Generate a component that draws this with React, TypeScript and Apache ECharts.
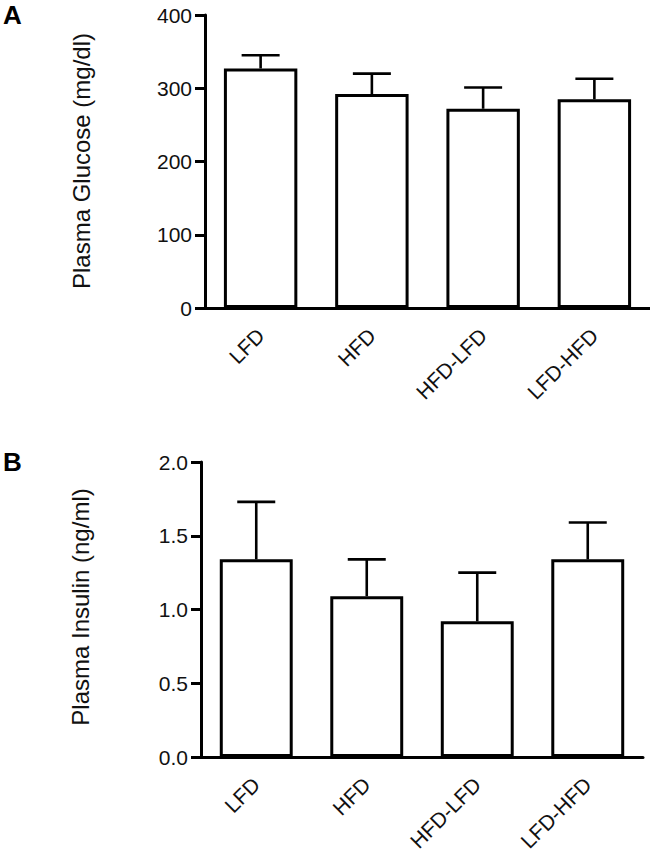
import React, { useEffect, useRef } from "react";
import * as echarts from "echarts";

const categories = ["LFD", "HFD", "HFD-LFD", "LFD-HFD"];
const glucoseMean = [327, 292, 272, 285];
const glucoseErr = [18, 28, 29, 28];
const insulinMean = [1.34, 1.09, 0.92, 1.34];
const insulinErr = [0.39, 0.25, 0.33, 0.25];
const glucoseTicks = { min: 0, max: 400, interval: 100 };
const insulinTicks = { min: 0, max: 2, interval: 0.5 };

const FONT = "'Liberation Sans', Arial, sans-serif";

function errorRender(params: any, api: any) {
  const x = api.value(0);
  const mean = api.value(1);
  const hi = api.value(2);
  const p0 = api.coord([x, mean]);
  const p1 = api.coord([x, hi]);
  const hw = 19;
  return {
    type: "group",
    children: [
      { type: "line", shape: { x1: p0[0], y1: p0[1], x2: p1[0], y2: p1[1] }, style: { stroke: "#000", lineWidth: 2.6 } },
      { type: "line", shape: { x1: p1[0] - hw, y1: p1[1], x2: p1[0] + hw, y2: p1[1] }, style: { stroke: "#000", lineWidth: 2.6 } },
    ],
  };
}

export default function App() {
  const ref = useRef<HTMLDivElement>(null);
  useEffect(() => {
    if (!ref.current) return;
    const chart = echarts.init(ref.current, undefined, { renderer: "svg" });
    const xAxisBase = (gridIndex: number) => ({
      type: "category",
      gridIndex,
      data: categories,
      axisLine: { lineStyle: { color: "#000", width: 3 } },
      axisTick: { alignWithLabel: true, length: 10, lineStyle: { color: "#000", width: 3 } },
      axisLabel: { rotate: 45, margin: 24, fontSize: 21, color: "#111", fontFamily: FONT, interval: 0 },
    });
    const yAxisBase = (gridIndex: number, t: any, fmt: (v: number) => string) => ({
      type: "value",
      gridIndex,
      min: t.min,
      max: t.max,
      interval: t.interval,
      splitLine: { show: false },
      axisLine: { show: true, lineStyle: { color: "#000", width: 3 } },
      axisTick: { show: true, length: 10, lineStyle: { color: "#000", width: 3 } },
      axisLabel: { margin: 13, fontSize: 21, color: "#111", fontFamily: FONT, formatter: fmt },
    });
    const barStyle = { color: "#fff", borderColor: "#000", borderWidth: 3 };
    chart.setOption({
      animation: false,
      backgroundColor: "#fff",
      grid: [
        { left: 205, top: 15, width: 445, height: 293 },
        { left: 201, top: 462, width: 442, height: 295 },
      ],
      xAxis: [xAxisBase(0), xAxisBase(1)],
      yAxis: [
        yAxisBase(0, glucoseTicks, (v: number) => String(v)),
        yAxisBase(1, insulinTicks, (v: number) => v.toFixed(1)),
      ],
      series: [
        { type: "bar", xAxisIndex: 0, yAxisIndex: 0, data: glucoseMean, barWidth: "66%", itemStyle: barStyle, z: 2 },
        {
          type: "custom", xAxisIndex: 0, yAxisIndex: 0, renderItem: errorRender, z: 1,
          encode: { x: 0, y: [1, 2] },
          data: categories.map((c, i) => [i, glucoseMean[i], glucoseMean[i] + glucoseErr[i]]),
        },
        { type: "bar", xAxisIndex: 1, yAxisIndex: 1, data: insulinMean, barWidth: "66%", itemStyle: barStyle, z: 2 },
        {
          type: "custom", xAxisIndex: 1, yAxisIndex: 1, renderItem: errorRender, z: 1,
          encode: { x: 0, y: [1, 2] },
          data: categories.map((c, i) => [i, insulinMean[i], insulinMean[i] + insulinErr[i]]),
        },
      ],
      graphic: [
        { type: "text", left: 3, top: 2, style: { text: "A", fontSize: 26, fontWeight: "bold", fill: "#000", fontFamily: FONT } },
        { type: "text", left: 3, top: 449, style: { text: "B", fontSize: 26, fontWeight: "bold", fill: "#000", fontFamily: FONT } },
        {
          type: "text", x: 81, y: 161, rotation: Math.PI / 2,
          style: { text: "Plasma Glucose (mg/dl)", fontSize: 24, fill: "#111", fontFamily: FONT, align: "center", verticalAlign: "middle" },
        },
        {
          type: "text", x: 80, y: 607, rotation: Math.PI / 2,
          style: { text: "Plasma Insulin (ng/ml)", fontSize: 24, fill: "#111", fontFamily: FONT, align: "center", verticalAlign: "middle" },
        },
      ],
    });
    return () => chart.dispose();
  }, []);
  return <div ref={ref} style={{ position: "absolute", left: 0, top: 0, width: 650, height: 856 }} />;
}
